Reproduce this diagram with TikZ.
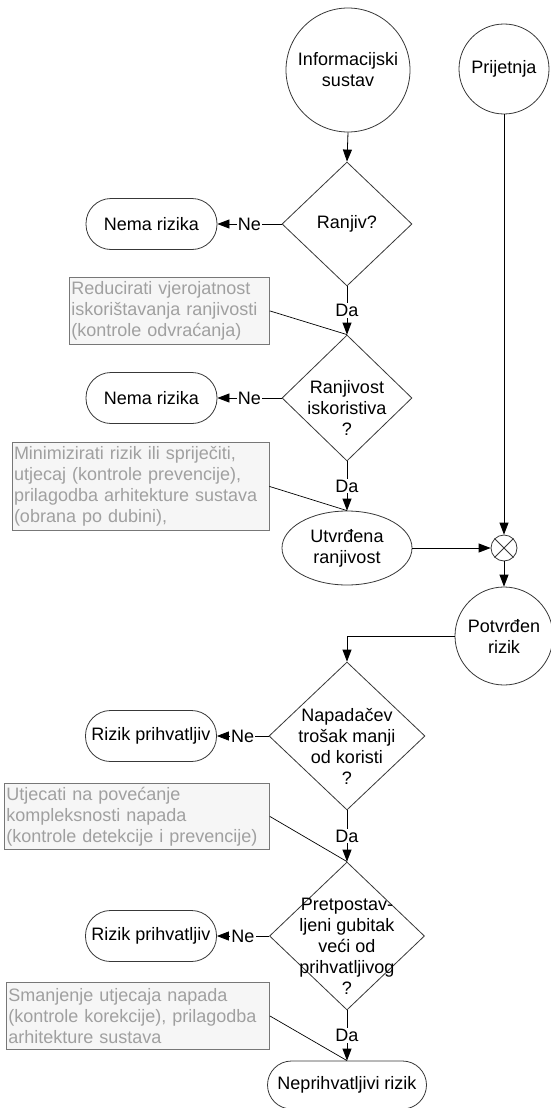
\documentclass[tikz,border=0pt]{standalone}
\usepackage{fontspec}
\setmainfont{Liberation Sans}
\usetikzlibrary{shapes.geometric, arrows.meta}
\definecolor{edge}{HTML}{383838}
\definecolor{annofill}{HTML}{F6F6F6}
\definecolor{annoline}{HTML}{777777}
\definecolor{annotext}{HTML}{A0A0A0}

\begin{document}
\begin{tikzpicture}[x=1pt, y=-1pt,
  every node/.style={font=\fontsize{18}{21}\selectfont, inner sep=0pt},
  shp/.style={draw=edge, line width=0.8pt, fill=white},
  circ/.style={shp, circle, align=center},
  term/.style={shp, rectangle, rounded corners=25pt, minimum width=131pt, minimum height=51pt},
  dia/.style={shp, diamond, inner sep=0pt},
  qtext/.style={align=center},
  anno/.style={draw=annoline, fill=annofill, text=annotext, line width=0.8pt,
    anchor=north west, align=left, inner xsep=2pt},
  arr/.style={draw=black, line width=0.8pt, -{Triangle[length=12pt,width=9pt]}},
  plain/.style={draw=black, line width=0.7pt},
  lbl/.style={fill=white, inner sep=1pt}
]
\useasboundingbox (0,0) rectangle (550,1108);

% start nodes
\node[circ, minimum size=124pt] (info) at (348,70) {Informacijski\\sustav};
\node[circ, minimum size=90pt] (prij) at (504,69) {Prijetnja};

% first decision
\node[dia, minimum width=130pt, minimum height=124pt] (d1) at (347,224) {};
\node[qtext] at (347,224) {Ranjiv?};
\node[term] (nema1) at (151.5,224) {Nema rizika};
\node[anno, text width=196pt, minimum height=67pt] (a1) at (69,277)
  {Reducirati vjerojatnost\\iskorištavanja ranjivosti\\(kontrole odvraćanja)};

% second decision
\node[dia, minimum width=130pt, minimum height=126pt] (d2) at (347,398) {};
\node[qtext] at (347,408) {Ranjivost\\iskoristiva\\?};
\node[term] (nema2) at (151.5,398) {Nema rizika};
\node[anno, text width=253pt, minimum height=88pt] (a2) at (11.6,442)
  {Minimizirati rizik ili spriječiti,\\utjecaj (kontrole prevencije),\\prilagodba arhitekture sustava\\(obrana po dubini),};

% vulnerability meets threat
\node[shp, ellipse, minimum width=130pt, minimum height=74pt, align=center] (ell) at (347,548) {Utvrđena\\ranjivost};
\node[shp, circle, minimum size=26pt] (jn) at (504,548) {};
\draw[edge, line width=0.8pt] (jn.north east) -- (jn.south west) (jn.north west) -- (jn.south east);
\node[circ, minimum size=98pt] (pot) at (504,636) {Potvrđen\\rizik};

% third decision
\node[dia, minimum width=156pt, minimum height=148pt] (d3) at (347,736) {};
\node[qtext] at (347,746) {Napadačev\\trošak manji\\od koristi\\?};
\node[term] (rp1) at (151,736) {Rizik prihvatljiv};
\node[anno, text width=261pt, minimum height=66pt] (a3) at (4,783)
  {Utjecati na povećanje\\kompleksnosti napada\\(kontrole detekcije i prevencije)};

% fourth decision
\node[dia, minimum width=155pt, minimum height=148pt] (d4) at (347,936) {};
\node[qtext] at (347,946) {Pretpostav-\\ljeni gubitak\\veći od\\prihvatljivog\\?};
\node[term] (rp2) at (151,936) {Rizik prihvatljiv};
\node[anno, text width=259pt, minimum height=67pt] (a4) at (6,982)
  {Smanjenje utjecaja napada\\(kontrole korekcije), prilagodba\\arhitekture sustava};

\node[term, minimum width=159pt, minimum height=48pt, rounded corners=24pt] (nepr) at (347,1085) {Neprihvatljivi rizik};

% flow
\draw[arr] (info.south) -- (d1.north);
\draw[arr] (d1.west) -- node[lbl]{Ne} (nema1.east);
\draw[arr] (d1.south) -- node[lbl]{Da} (d2.north);
\draw[arr] (d2.west) -- node[lbl]{Ne} (nema2.east);
\draw[arr] (d2.south) -- node[lbl]{Da} (ell.north);
\draw[arr] (ell.east) -- (jn.west);
\draw[arr] (prij.south) -- (jn.north);
\draw[arr] (jn.south) -- (pot.north);
\draw[arr] (pot.west) -| (d3.north);
\draw[arr] (d3.west) -- node[lbl]{Ne} (rp1.east);
\draw[arr] (d3.south) -- node[lbl]{Da} (d4.north);
\draw[arr] (d4.west) -- node[lbl]{Ne} (rp2.east);
\draw[arr] (d4.south) -- node[lbl]{Da} (nepr.north);

% annotation leaders
\draw[plain] (a1.east) -- (d2.north);
\draw[plain] (a2.east) -- (ell.north);
\draw[plain] (a3.east) -- (d4.north);
\draw[plain] (a4.east) -- (nepr.north);
\end{tikzpicture}
\end{document}
